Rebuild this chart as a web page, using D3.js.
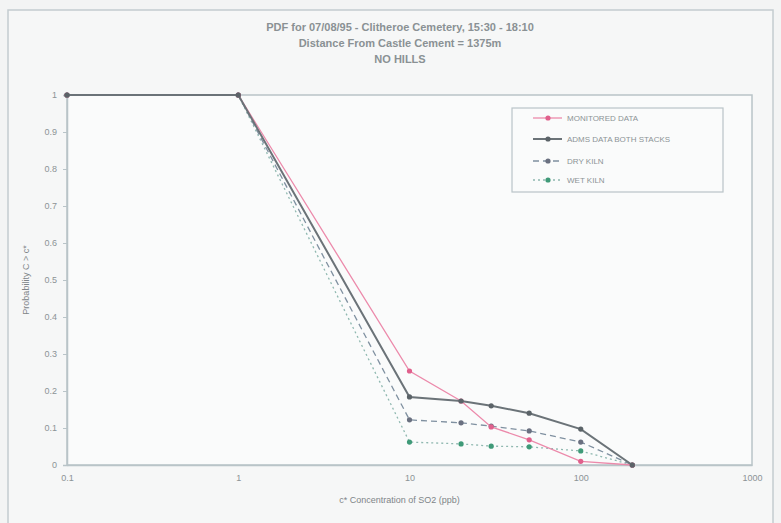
<!DOCTYPE html>
<html lang="en">

<head>
  <meta charset="UTF-8">
  <title>PDF Clitheroe Cemetery</title>
  <style>
    body {
      margin: 0;
      background: #f3f4f4;
    }

    #chart text {
      font-family: "Liberation Sans", Arial, sans-serif;
    }
  </style>
</head>

<body>

  <div id="chart"></div>

  <script src="https://cdnjs.cloudflare.com/ajax/libs/d3/7.8.5/d3.min.js"></script>
  <script>
    // concentrations (ppb) on the log x axis
    const concentrations = [0.1, 1, 10, 20, 30, 50, 100, 200]

    const monitored = [1, 1, 0.254, 0.173, 0.103, 0.068, 0.01, 0]
    const admsBoth = [1, 1, 0.184, 0.173, 0.16, 0.14, 0.097, 0]
    const dryKiln = [1, 1, 0.122, 0.114, 0.105, 0.092, 0.062, 0]
    const wetKiln = [1, 1, 0.062, 0.057, 0.051, 0.049, 0.038, 0]

    const seriesNames = ['MONITORED DATA', 'ADMS DATA BOTH STACKS', 'DRY KILN', 'WET KILN']
    const xTicks = [0.1, 1, 10, 100, 1000]
    const yTicks = [0, 0.1, 0.2, 0.3, 0.4, 0.5, 0.6, 0.7, 0.8, 0.9, 1]

    const titleLines = [
      'PDF for 07/08/95 - Clitheroe Cemetery,  15:30 - 18:10',
      'Distance From Castle Cement = 1375m',
      'NO HILLS'
    ]

    const series = [
      { name: seriesNames[0], values: monitored, color: '#ec8aab', dash: null, width: 1.3, marker: '#e0608c' },
      { name: seriesNames[1], values: admsBoth, color: '#6b7378', dash: null, width: 2, marker: '#5b6368' },
      { name: seriesNames[2], values: dryKiln, color: '#7f90a0', dash: '6,4', width: 1.3, marker: '#6a7080' },
      { name: seriesNames[3], values: wetKiln, color: '#8fb8b0', dash: '2,3', width: 1.3, marker: '#3f9a78' }
    ]

    const W = 781, H = 523
    const margin = { top: 95, right: 29, bottom: 58, left: 67 }
    const width = W - margin.left - margin.right
    const height = H - margin.top - margin.bottom

    const svg = d3.select('#chart')
      .append('svg')
      .attr('width', W)
      .attr('height', H)

    // outer chart frame
    svg.append('rect')
      .attr('x', 8).attr('y', 10)
      .attr('width', 765).attr('height', 530)
      .attr('fill', '#f6f7f7')
      .attr('stroke', '#c4cccf')
      .attr('stroke-width', 1.5)

    const title = svg.append('g')
    titleLines.forEach((t, i) => {
      title.append('text')
        .attr('x', 400)
        .attr('y', 31 + i * 16)
        .attr('text-anchor', 'middle')
        .attr('font-size', 11)
        .attr('font-weight', 'bold')
        .attr('fill', '#8a9194')
        .text(t)
    })

    const xScale = d3.scaleLog()
      .domain([0.1, 1000])
      .range([0, width])

    const yScale = d3.scaleLinear()
      .domain([0, 1])
      .range([height, 0])

    const g = svg.append('g')
      .attr('transform', `translate(${margin.left}, ${margin.top})`)

    g.append('rect')
      .attr('width', width)
      .attr('height', height)
      .attr('fill', '#fafbfb')
      .attr('stroke', '#b9c4c8')
      .attr('stroke-width', 1.5)

    const xAxis = g.append('g')
      .attr('transform', `translate(0, ${height})`)
      .call(d3.axisBottom(xScale).tickValues(xTicks).tickFormat(d => String(d)).tickSize(0).tickPadding(10))

    const yAxis = g.append('g')
      .call(d3.axisLeft(yScale).tickValues(yTicks).tickFormat(d => String(d)).tickSize(4).tickPadding(6))

    for (const ax of [xAxis, yAxis]) {
      ax.select('.domain').attr('stroke', '#b9c4c8').attr('stroke-width', 1.5)
      ax.selectAll('line').attr('stroke', '#b9c4c8')
      ax.selectAll('text').attr('fill', '#8c9396').attr('font-size', 9)
    }

    svg.append('text')
      .attr('x', margin.left + width / 2 - 10)
      .attr('y', 503)
      .attr('text-anchor', 'middle')
      .attr('font-size', 9)
      .attr('fill', '#7e8588')
      .text('c* Concentration of SO2 (ppb)')

    svg.append('text')
      .attr('transform', `translate(29, ${margin.top + height / 2}) rotate(-90)`)
      .attr('text-anchor', 'middle')
      .attr('font-size', 9)
      .attr('fill', '#7e8588')
      .text('Probability C > c*')

    const line = d3.line()
      .x((d, i) => xScale(concentrations[i]))
      .y(d => yScale(d))

    // wet, dry, monitored, then ADMS on top
    const drawOrder = [series[3], series[2], series[0], series[1]]
    drawOrder.forEach(s => {
      g.append('path')
        .datum(s.values)
        .attr('fill', 'none')
        .attr('stroke', s.color)
        .attr('stroke-width', s.width)
        .attr('stroke-dasharray', s.dash)
        .attr('d', line)

      g.selectAll(null)
        .data(s.values)
        .enter()
        .append('circle')
        .attr('cx', (d, i) => xScale(concentrations[i]))
        .attr('cy', d => yScale(d))
        .attr('r', 2.6)
        .attr('fill', s.marker)
    })

    // legend
    const legend = svg.append('g')
      .attr('transform', 'translate(512, 108)')

    legend.append('rect')
      .attr('width', 211)
      .attr('height', 84)
      .attr('fill', '#fafbfb')
      .attr('stroke', '#b9c4c8')
      .attr('stroke-width', 1.2)

    const rowY = [10, 31, 53, 72]
    series.forEach((s, i) => {
      const row = legend.append('g')
        .attr('transform', `translate(0, ${rowY[i]})`)
      row.append('line')
        .attr('x1', 21).attr('x2', 50)
        .attr('stroke', s.color)
        .attr('stroke-width', s.width)
        .attr('stroke-dasharray', s.dash)
      row.append('circle')
        .attr('cx', 36)
        .attr('r', 2.6)
        .attr('fill', s.marker)
      row.append('text')
        .attr('x', 55)
        .attr('dy', '0.35em')
        .attr('font-size', 8)
        .attr('fill', '#8c9396')
        .text(s.name)
    })
  </script>
</body>

</html>
